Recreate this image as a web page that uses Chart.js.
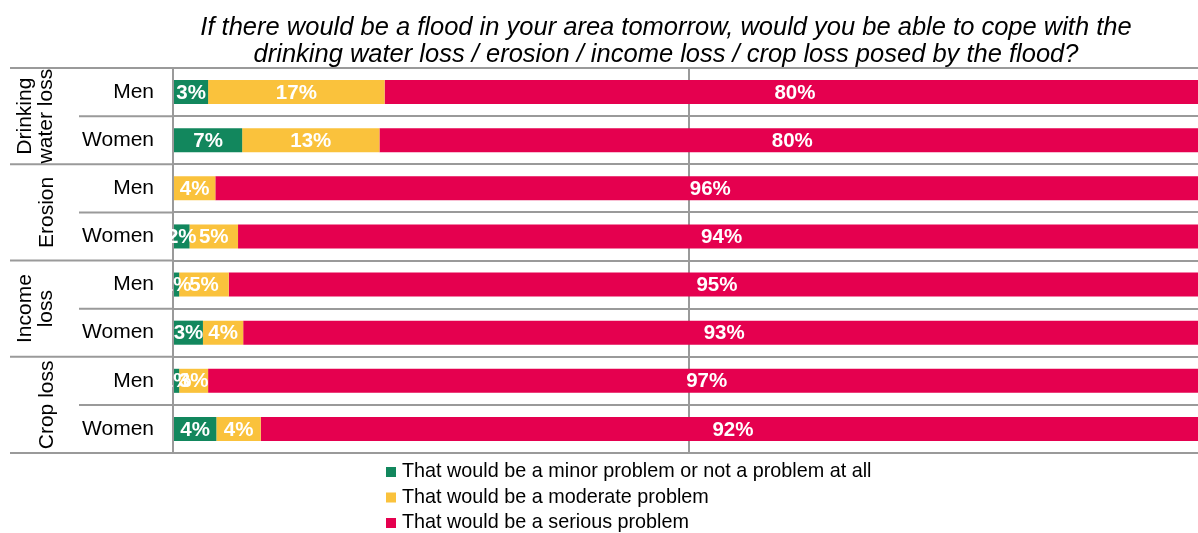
<!DOCTYPE html>
<html>
<head>
<meta charset="utf-8">
<script src="https://cdn.jsdelivr.net/npm/chart.js@4"></script>
<style>
  html, body { margin: 0; padding: 0; background: #fff; }
  #wrap { width: 1198px; height: 533px; position: relative; }
</style>
</head>
<body>
<div id="wrap"><canvas id="floodChart" width="1198" height="533"></canvas></div>
<script>
// Data (percent of respondents)
const titleLines = [
  'If there would be a flood in your area tomorrow, would you be able to cope with the',
  'drinking water loss / erosion / income loss / crop loss posed by the flood?'
];
const groupLabels = [['Drinking', 'water loss'], ['Erosion'], ['Income', 'loss'], ['Crop loss']];
const genders = ['Men', 'Women'];
const seriesNames = [
  'That would be a minor problem or not a problem at all',
  'That would be a moderate problem',
  'That would be a serious problem'
];
const minorValues    = [3.4, 6.7, 0,    1.6,  0.6,  2.9,  0.6,  4.2];
const moderateValues = [17.1, 13.3, 4.1, 4.7, 4.8,  3.9,  2.8,  4.3];
const seriousValues  = [79.5, 80.0, 95.9, 93.7, 94.6, 93.2, 96.6, 91.5];
const seriesColors = ['#12875d', '#fac23c', '#e5004f'];

// one row per group x gender
const rowLabels = [];
groupLabels.forEach(g => genders.forEach(s => rowLabels.push(s)));

const GRID = '#9a9a9a';
const FONT = '"Liberation Sans", Arial, sans-serif';

// Draws title, row/group labels, table lines in the label area, and legend
const tablePlugin = {
  id: 'tablePlugin',
  afterDraw(chart) {
    const ctx = chart.ctx;
    const y = chart.scales.y;
    const area = chart.chartArea;
    ctx.save();

    // title
    ctx.fillStyle = '#000';
    ctx.font = 'italic 25.5px ' + FONT;
    ctx.textAlign = 'center';
    ctx.textBaseline = 'middle';
    ctx.fillText(titleLines[0], 666, 28);
    ctx.fillText(titleLines[1], 666, 55);

    // horizontal lines in the label area
    ctx.strokeStyle = GRID;
    ctx.lineWidth = 2;
    const n = rowLabels.length;
    for (let i = 0; i <= n; i++) {
      let yy;
      if (i === 0) yy = y.top;
      else if (i === n) yy = y.bottom;
      else yy = (y.getPixelForValue(i - 1) + y.getPixelForValue(i)) / 2;
      const x0 = (i % 2 === 0) ? 10 : 79;
      ctx.beginPath();
      ctx.moveTo(x0, yy);
      ctx.lineTo(area.left, yy);
      ctx.stroke();
    }

    // Men / Women labels
    ctx.font = '21px ' + FONT;
    ctx.textAlign = 'right';
    ctx.fillStyle = '#000';
    rowLabels.forEach((lab, i) => {
      ctx.fillText(lab, 154, y.getPixelForValue(i));
    });

    // group labels, rotated
    ctx.textAlign = 'center';
    groupLabels.forEach((lines, g) => {
      const cy = (y.getPixelForValue(g * 2) + y.getPixelForValue(g * 2 + 1)) / 2;
      const xs = lines.length === 2 ? [25, 46] : [47];
      lines.forEach((t, k) => {
        ctx.save();
        ctx.translate(xs[k], cy);
        ctx.rotate(-Math.PI / 2);
        ctx.fillText(t, 0, 0);
        ctx.restore();
      });
    });

    // legend
    ctx.font = '19.8px ' + FONT;
    ctx.textAlign = 'left';
    chart.data.datasets.forEach((ds, i) => {
      const ly = 472 + i * 25.5;
      ctx.fillStyle = ds.backgroundColor;
      ctx.fillRect(386, ly - 5, 10, 10);
      ctx.fillStyle = '#000';
      ctx.fillText(ds.label, 402, ly);
    });

    ctx.restore();
  }
};

// white percentage labels centred on each bar segment
const valueLabels = {
  id: 'valueLabels',
  afterDatasetsDraw(chart) {
    const ctx = chart.ctx;
    ctx.save();
    ctx.font = 'bold 20.5px ' + FONT;
    ctx.fillStyle = '#fff';
    ctx.textAlign = 'center';
    ctx.textBaseline = 'middle';
    chart.data.datasets.forEach((ds, di) => {
      chart.getDatasetMeta(di).data.forEach((el, i) => {
        const v = ds.data[i];
        if (!v) return;
        ctx.fillText(Math.round(v) + '%', (el.x + el.base) / 2, el.y + 1);
      });
    });
    ctx.restore();
  }
};

const ctx = document.getElementById('floodChart').getContext('2d');
new Chart(ctx, {
  type: 'bar',
  data: {
    labels: rowLabels,
    datasets: [
      { label: seriesNames[0], data: minorValues, backgroundColor: seriesColors[0] },
      { label: seriesNames[1], data: moderateValues, backgroundColor: seriesColors[1] },
      { label: seriesNames[2], data: seriousValues, backgroundColor: seriesColors[2] }
    ]
  },
  options: {
    indexAxis: 'y',
    responsive: false,
    animation: false,
    devicePixelRatio: 1,
    layout: { padding: { left: 173, top: 68, right: 0, bottom: 80 } },
    datasets: { bar: { barPercentage: 0.5, categoryPercentage: 1.0, borderWidth: 0 } },
    plugins: {
      legend: { display: false },
      title: { display: false },
      tooltip: { enabled: false }
    },
    scales: {
      x: {
        stacked: true,
        min: 0,
        max: 99.3,
        afterBuildTicks: axis => { axis.ticks = [{ value: 0 }, { value: 50 }]; },
        ticks: { display: false },
        grid: { color: GRID, lineWidth: 2, drawTicks: false },
        border: { display: false }
      },
      y: {
        stacked: true,
        ticks: { display: false },
        grid: { offset: true, color: GRID, lineWidth: 2, drawTicks: false },
        border: { display: true, color: GRID, width: 2 }
      }
    }
  },
  plugins: [valueLabels, tablePlugin]
});
</script>
</body>
</html>
